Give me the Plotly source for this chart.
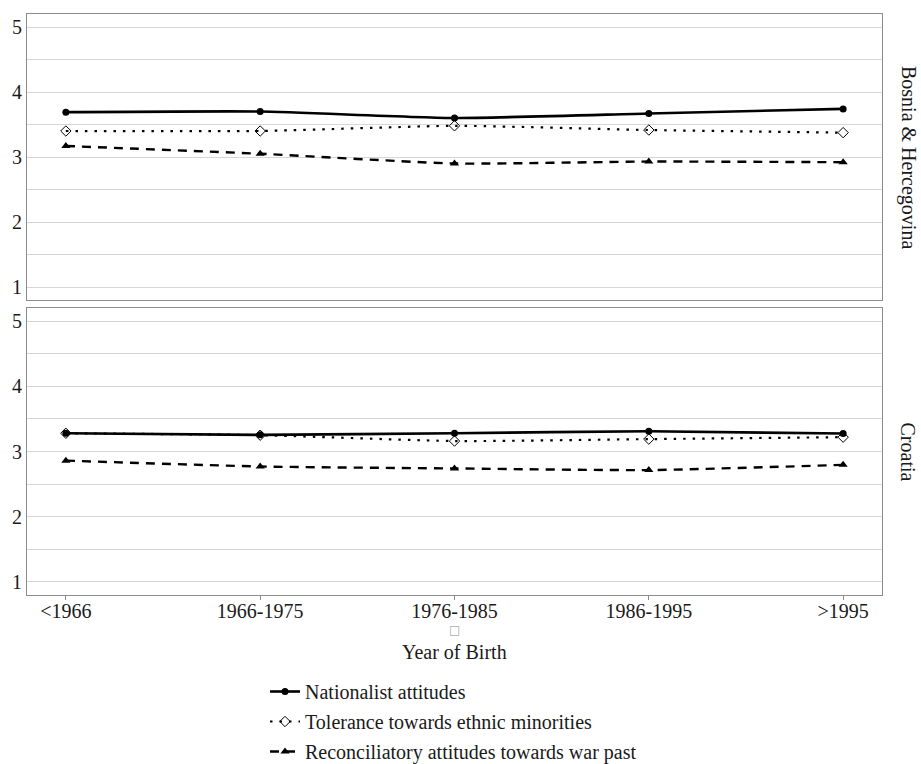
import plotly.graph_objects as go

categories = ["<1966", "1966-1975", "1976-1985", "1986-1995", ">1995"]
series_names = ["Nationalist attitudes", "Tolerance towards ethnic minorities",
                "Reconciliatory attitudes towards war past"]

bih_nationalist = [3.69, 3.70, 3.60, 3.67, 3.74]
bih_tolerance = [3.40, 3.40, 3.48, 3.415, 3.375]
bih_reconcil = [3.17, 3.05, 2.90, 2.93, 2.92]

cro_nationalist = [3.28, 3.255, 3.28, 3.31, 3.275]
cro_tolerance = [3.28, 3.25, 3.16, 3.19, 3.22]
cro_reconcil = [2.86, 2.77, 2.74, 2.715, 2.795]

panel_titles = ["Bosnia & Hercegovina", "Croatia"]
y_ticks = [1, 2, 3, 4, 5]

FONT = "Liberation Serif, Times New Roman, serif"
TXT = "#1a1a1a"
styles = [
    dict(line=dict(color="black", width=2.6, dash="solid"),
         marker=dict(symbol="circle", size=7, color="black")),
    dict(line=dict(color="black", width=2.2, dash="2.5px,7px"),
         marker=dict(symbol="diamond-open", size=8, color="black", line=dict(width=1))),
    dict(line=dict(color="black", width=2.4, dash="9px,7px"),
         marker=dict(symbol="triangle-up", size=8, color="black")),
]

fig = go.Figure()
panels = [("x", "y", [bih_nationalist, bih_tolerance, bih_reconcil], False),
          ("x2", "y2", [cro_nationalist, cro_tolerance, cro_reconcil], True)]
for xa, ya, data, show in panels:
    for i, vals in enumerate(data):
        fig.add_trace(go.Scatter(
            x=categories, y=vals, xaxis=xa, yaxis=ya, mode="lines+markers",
            name=series_names[i], showlegend=show, legendgroup=f"g{i}",
            line=dict(shape="spline", smoothing=0.5, **styles[i]["line"]),
            marker=styles[i]["marker"], cliponaxis=False))

W, H = 921, 764
ml, mr, mt, mb = 27, 39, 14, 169
ph = H - mt - mb
pw = W - ml - mr
top_dom = [(H - mb - 300) / ph, 1]
bot_dom = [0, (H - mb - 308) / ph]

yrange = [0.8, 5.2]
grid = "#d6d6d6"
border = "#8c8c8c"
yax_common = dict(range=yrange, tickvals=y_ticks, showgrid=True, gridcolor=grid,
                  gridwidth=1, zeroline=False, showline=True, linecolor=border,
                  linewidth=1, mirror=True, ticks="", fixedrange=True, automargin=False,
                  tickfont=dict(family=FONT, size=20, color=TXT),
                  minor=dict(dtick=0.5, tick0=0, showgrid=True, gridcolor=grid))
yax_right = dict(range=yrange, tickvals=y_ticks, showgrid=False, zeroline=False,
                 side="right", ticks="", showline=False, automargin=False,
                 tickfont=dict(family=FONT, size=20, color=TXT))
xax_common = dict(type="category", categoryorder="array", categoryarray=categories,
                  range=[-0.2, 4.2], showline=True, linecolor=border, linewidth=1,
                  mirror=True, showgrid=False, zeroline=False, automargin=False)

fig.update_layout(
    width=W, height=H, autosize=False,
    margin=dict(l=ml, r=mr, t=mt, b=mb, autoexpand=False),
    paper_bgcolor="white", plot_bgcolor="white",
    font=dict(family=FONT, size=20, color=TXT),
    xaxis=dict(domain=[0, 1], anchor="y", showticklabels=False, ticks="", matches="x2",
               **xax_common),
    xaxis2=dict(domain=[0, 1], anchor="y2", showticklabels=True, ticks="outside",
                ticklen=4, tickcolor=border, ticklabelstandoff=-6,
                tickfont=dict(family=FONT, size=20, color=TXT), **xax_common),
    yaxis=dict(domain=top_dom, anchor="x", **yax_common),
    yaxis2=dict(domain=bot_dom, anchor="x2", **yax_common),
    yaxis3=dict(overlaying="y", anchor="x", **yax_right),
    yaxis4=dict(overlaying="y2", anchor="x2", **yax_right),
    legend=dict(x=(265 - ml) / pw, xanchor="left",
                y=(H - mb - 672) / ph, yanchor="top",
                font=dict(family=FONT, size=20, color=TXT),
                itemwidth=30, traceorder="grouped", tracegroupgap=1,
                bgcolor="rgba(0,0,0,0)"),
    showlegend=True,
)

# panel labels on the right
for title, dom in zip(panel_titles, [top_dom, bot_dom]):
    fig.add_annotation(text=title, xref="paper", yref="paper",
                       x=(908 - ml) / pw, y=sum(dom) / 2,
                       textangle=90, showarrow=False, xanchor="center", yanchor="middle",
                       font=dict(family=FONT, size=20, color=TXT))
# axis title
fig.add_annotation(text="\u25a1", xref="paper", yref="paper",
                   x=(454 - ml) / pw, y=(H - mb - 630) / ph,
                   showarrow=False, xanchor="center", yanchor="middle",
                   font=dict(family="DejaVu Sans", size=12, color="#aaaaaa"))
fig.add_annotation(text="Year of Birth", xref="paper", yref="paper",
                   x=(454 - ml) / pw, y=(H - mb - 652) / ph,
                   showarrow=False, xanchor="center", yanchor="middle",
                   font=dict(family=FONT, size=20, color=TXT))

fig.write_html("out.html")
